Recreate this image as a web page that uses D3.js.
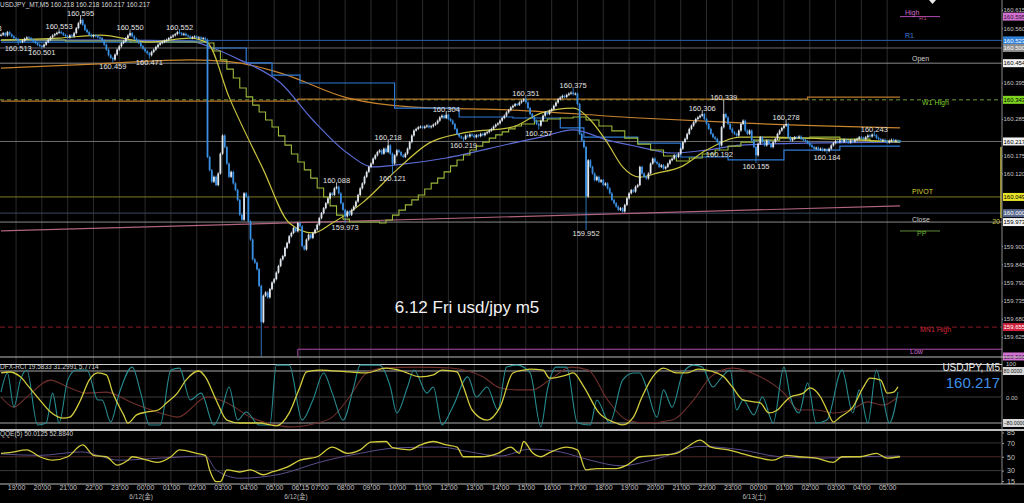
<!DOCTYPE html>
<html>
<head>
<meta charset="utf-8">
<script src="https://cdn.jsdelivr.net/npm/d3@7"></script>
<style>
body { margin: 0; background: #000; overflow: hidden; }
svg { display: block; }
text { font-family: "Liberation Sans", Arial, "Noto Sans CJK JP", sans-serif; }
.axis path.domain { display: none; }
.axis line { stroke: #9a9a9a; }
.axis text { fill: #c4c4c4; font-size: 7px; }
</style>
</head>
<body>
<svg></svg>
<script>
// USDJPY M5, 18:25 (6/11) .. 05:30 (6/13), one close per bar
var firstOpen = 160.538;
var closes = [
 160.540,160.545,160.538,160.548,160.541,160.535,160.530,160.527,160.520,160.518,
 160.522,160.528,160.532,160.530,160.526,160.520,160.515,160.510,160.506,160.504,
 160.510,160.518,160.525,160.532,160.538,160.542,160.546,160.549,160.545,160.540,
 160.536,160.532,160.538,160.535,160.545,160.560,160.575,160.585,160.570,160.555,
 160.548,160.540,160.535,160.538,160.536,160.532,160.530,160.522,160.510,160.495,
 160.478,160.470,160.465,160.480,160.495,160.505,160.515,160.520,160.530,160.538,
 160.545,160.535,160.528,160.522,160.515,160.505,160.498,160.490,160.484,160.478,
 160.488,160.495,160.503,160.510,160.515,160.518,160.522,160.525,160.530,160.534,
 160.538,160.542,160.548,160.545,160.540,160.543,160.538,160.535,160.530,160.533,
 160.535,160.530,160.532,160.528,160.530,160.525,160.170,160.130,160.095,160.110,
 160.085,160.120,160.180,160.235,160.200,160.150,160.110,160.125,160.090,160.070,
 160.040,159.995,159.980,160.060,160.050,159.975,159.920,159.860,159.850,159.830,
 159.780,159.670,159.750,159.760,159.745,159.770,159.790,159.800,159.820,159.840,
 159.860,159.870,159.895,159.910,159.930,159.940,159.955,159.945,159.970,159.960,
 159.900,159.890,159.920,159.935,159.925,159.940,159.950,159.965,159.985,160.000,
 160.015,160.030,160.045,160.060,160.055,160.075,160.080,160.060,160.030,160.010,
 159.990,160.005,159.995,160.010,160.020,160.035,160.055,160.075,160.090,160.110,
 160.125,160.140,160.150,160.165,160.175,160.185,160.190,160.180,160.195,160.185,
 160.205,160.180,160.150,160.175,160.190,160.185,160.175,160.170,160.180,160.195,
 160.215,160.235,160.250,160.255,160.260,160.262,160.258,160.262,160.265,160.260,
 160.263,160.268,160.272,160.280,160.290,160.295,160.288,160.298,160.285,160.280,
 160.270,160.255,160.240,160.232,160.228,160.225,160.235,160.232,160.238,160.235,
 160.230,160.236,160.233,160.240,160.236,160.242,160.245,160.250,160.255,160.262,
 160.268,160.272,160.280,160.288,160.295,160.305,160.312,160.320,160.325,160.330,
 160.328,160.335,160.340,160.345,160.335,160.318,160.300,160.290,160.280,160.270,
 160.265,160.280,160.295,160.305,160.300,160.310,160.315,160.325,160.335,160.345,
 160.350,160.355,160.352,160.358,160.362,160.365,160.360,160.362,160.330,160.240,
 160.220,160.200,160.050,160.160,160.140,160.120,160.100,160.110,160.095,160.100,
 160.085,160.090,160.075,160.060,160.040,160.030,160.020,160.010,160.015,160.005,
 160.025,160.045,160.060,160.070,160.065,160.080,160.085,160.140,160.120,160.110,
 160.105,160.120,160.150,160.165,160.155,160.150,160.140,160.145,160.135,160.140,
 160.150,160.160,160.165,160.175,160.170,160.180,160.195,160.215,160.225,160.240,
 160.255,160.265,160.275,160.285,160.290,160.295,160.300,160.285,160.270,160.255,
 160.240,160.230,160.225,160.215,160.205,160.260,160.300,160.290,160.270,160.255,
 160.245,160.240,160.235,160.250,160.270,160.280,160.250,160.240,160.250,160.220,
 160.200,160.175,160.210,160.230,160.215,160.205,160.220,160.210,160.200,160.215,
 160.225,160.240,160.250,160.258,160.265,160.270,160.230,160.220,160.225,160.230,
 160.228,160.232,160.225,160.222,160.218,160.212,160.205,160.200,160.195,160.198,
 160.192,160.195,160.190,160.193,160.188,160.195,160.205,160.212,160.218,160.215,
 160.220,160.216,160.222,160.218,160.214,160.220,160.217,160.222,160.225,160.230,
 160.228,160.225,160.230,160.235,160.232,160.238,160.236,160.228,160.224,160.220,
 160.222,160.218,160.214,160.219,160.222,160.218,160.220,160.218,160.217
];

// zigzag extremes [bar, price]
var swingHighs = [[-6,160.548],[27,160.553],[37,160.595],[60,160.550],[83,160.552],[156,160.088],[180,160.218],
  [207,160.304],[244,160.351],[266,160.375],[326,160.306],[336,160.339],[365,160.278],[406,160.243]];
var swingLows = [[8,160.513],[19,160.501],[52,160.459],[69,160.471],[121,159.566],[160,159.973],[182,160.121],
  [215,160.219],[250,160.257],[272,159.952],[334,160.192],[351,160.155],[384,160.184]];

// indicator lines [bar, price]
var maFast = [[0,160.524],[27,160.530],[46,160.539],[69,160.518],[88,160.530],[96,160.515],[106,160.352],[122,160.131],
  [134,159.970],[145,159.940],[154,159.970],[168,160.031],[184,160.131],[199,160.212],[215,160.243],[238,160.261],
  [251,160.303],[266,160.318],[274,160.282],[282,160.212],[289,160.140],[297,160.109],[305,160.121],[316,160.140],
  [328,160.191],[344,160.230],[359,160.230],[375,160.227],[418,160.215]];
var maStair = [[0,160.524],[30,160.521],[60,160.518],[96,160.515],[99,160.491],[102,160.464],[105,160.436],[108,160.409],
  [111,160.379],[114,160.352],[117,160.327],[120,160.306],[123,160.282],[126,160.261],[129,160.234],[132,160.206],
  [135,160.179],[138,160.155],[141,160.131],[144,160.106],[147,160.076],[150,160.049],[153,160.022],[156,159.994],
  [159,159.982],[162,159.973],[176,159.970],[179,159.979],[182,159.994],[185,160.009],[188,160.025],[191,160.040],
  [194,160.055],[197,160.073],[200,160.091],[203,160.106],[206,160.125],[209,160.143],[212,160.161],[215,160.176],
  [218,160.191],[221,160.203],[224,160.215],[227,160.227],[230,160.237],[233,160.246],[236,160.255],[239,160.264],
  [242,160.270],[248,160.279],[254,160.285],[260,160.288],[266,160.291],[272,160.282],[278,160.264],[284,160.249],
  [290,160.227],[296,160.209],[302,160.191],[308,160.173],[314,160.158],[320,160.167],[326,160.179],[332,160.191],
  [338,160.203],[344,160.215],[350,160.221],[362,160.227],[376,160.230],[390,160.224],[404,160.218],[418,160.215]];
var maMid = [[0,160.524],[46,160.524],[88,160.521],[96,160.506],[111,160.464],[130,160.394],[145,160.282],[161,160.182],
  [173,160.140],[184,160.146],[207,160.167],[238,160.212],[251,160.230],[266,160.252],[282,160.221],[297,160.200],
  [312,160.182],[328,160.191],[344,160.206],[375,160.212],[418,160.215]];
var maSlow = [[0,160.439],[46,160.452],[88,160.464],[107,160.458],[130,160.424],[161,160.349],[192,160.321],
  [238,160.312],[297,160.288],[344,160.273],[418,160.258]];
var kijun = [[0,160.518],[96,160.500],[114,160.455],[126,160.418],[139,160.394],[183,160.318],[213,160.291],[238,160.288],
  [260,160.258],[271,160.230],[296,160.212],[316,160.170],[338,160.161],[364,160.191],[390,160.203],[418,160.203]];
var hiLine = [[0,160.339],[138,160.345],[375,160.351],[418,160.351]];
var trendLine = [[0,159.946],[418,160.022]];

// horizontal levels
var levelNames  = ['High','R1','Mid','Open','W1 High','Last','PIVOT','Round','Close','PP','MN1 High','Low'];
var levelPrices = [160.595,160.523,160.500,160.454,160.343,160.217,160.049,160.000,159.973,159.946,159.655,159.566];
var lowBoxTop = 159.588, lowBoxStart = 138;

// price axis
var priceTicks = [160.615,160.560,160.505,160.450,160.395,160.340,160.285,160.230,160.175,160.120,160.065,160.010,
  159.955,159.900,159.845,159.790,159.735,159.680,159.625];

// time axis
var timeIdx = [7,19,31,43,55,67,79,91,103,115,127,139,148,160,172,184,196,208,220,232,244,256,268,280,292,304,316,328,340,352,364,376,388,400,412];
var timeLabels = ['19:00','20:00','21:00','22:00','23:00','00:00','01:00','02:00','03:00','04:00','05:00','06:15','07:00',
  '08:00','09:00','10:00','11:00','12:00','13:00','14:00','15:00','16:00','17:00','18:00','19:00','20:00','21:00',
  '22:00','23:00','00:00','01:00','02:00','03:00','04:00','05:00'];
var dateIdx = [67,139,352];
var dateLabels = ['6/12(金)','6/12(金)','6/13(土)'];

// RCI [bar, value]
var rciFast = [[0,15],[3,74],[6,-31],[9,52],[12,83],[17,-86],[21,-80],[24,12],[27,-80],[31,52],[35,83],[40,83],[45,-9],[47,-9],
  [51,-77],[55,12],[61,92],[65,12],[69,-86],[74,-86],[79,83],[83,89],[88,-9],[93,12],[99,-86],[103,-31],[106,31],[110,-71],
  [114,-46],[120,-86],[125,-86],[128,98],[134,98],[140,-71],[145,-9],[150,74],[154,12],[159,-71],[164,31],[167,98],[176,98],
  [181,31],[184,-49],[189,31],[192,83],[198,12],[201,31],[205,-86],[210,-31],[217,62],[221,0],[226,31],[231,-40],[235,92],
  [240,98],[246,74],[251,-92],[254,22],[258,92],[263,92],[268,-80],[274,-86],[277,-9],[283,-80],[289,52],[294,74],[297,74],
  [300,31],[305,-62],[308,22],[312,-31],[317,74],[322,98],[326,92],[331,31],[334,52],[339,83],[342,-40],[345,-9],[350,-55],
  [354,0],[359,-80],[364,92],[367,0],[371,-49],[375,43],[379,-80],[384,-71],[391,83],[396,-49],[399,22],[403,-80],[407,83],
  [410,0],[413,-80],[417,15]];
var rciMid = [[0,74],[4,77],[9,62],[13,31],[18,-9],[23,-46],[29,-65],[32,-62],[37,-9],[41,52],[45,74],[49,68],[52,12],[57,-55],
  [59,-80],[63,-55],[68,-46],[73,-40],[77,-18],[82,12],[86,52],[92,80],[95,62],[100,-9],[105,-71],[111,-80],[120,-80],
  [128,-89],[134,-49],[139,31],[142,77],[148,83],[162,77],[170,74],[179,89],[185,83],[195,62],[201,68],[205,83],[212,77],
  [215,31],[219,-40],[226,-71],[232,-31],[238,74],[243,83],[246,86],[252,83],[255,58],[263,68],[266,74],[271,31],[278,-49],
  [286,-80],[289,-86],[294,-62],[298,0],[303,62],[308,89],[314,74],[319,74],[324,86],[330,80],[336,62],[340,31],[345,-9],
  [350,-15],[353,-18],[357,-49],[361,-40],[364,-18],[367,0],[373,12],[376,28],[381,0],[384,-40],[387,-77],[390,-62],
  [396,-31],[401,31],[404,58],[409,52],[412,12],[415,15],[417,31]];
var rciSlow = [[0,0],[6,-31],[12,0],[23,52],[31,31],[40,12],[49,15],[61,-18],[74,-49],[82,-62],[96,0],[105,-18],[116,-62],
  [128,-86],[134,-92],[147,-80],[154,-62],[162,0],[170,74],[178,89],[193,92],[209,89],[224,62],[232,28],[240,22],[247,22],
  [255,52],[265,92],[273,83],[282,-9],[291,-71],[300,-80],[312,-71],[322,-9],[330,62],[340,89],[353,62],[364,12],[371,-40],
  [379,-40],[387,-49],[395,-40],[403,-15],[410,-25],[417,0]];

// QQE [bar, value]
var qqeFast = [[0,55],[4,56],[12,60],[18,50],[24,45],[31,50],[38,67],[43,52],[49,50],[54,38],[59,45],[61,50],[68,45],[73,42],
  [79,50],[83,60],[91,55],[95,52],[97,31],[100,14],[102,14],[105,31],[111,28],[116,31],[122,24],[126,28],[133,35],[139,45],
  [147,50],[154,64],[161,55],[167,60],[172,71],[179,72],[182,63],[190,60],[195,67],[201,72],[207,67],[212,64],[215,50],
  [223,50],[231,55],[237,64],[241,55],[243,72],[247,56],[251,50],[255,56],[263,64],[268,60],[272,31],[277,33],[286,33],
  [291,38],[297,50],[305,52],[314,55],[319,64],[325,74],[330,64],[338,60],[344,55],[353,48],[359,45],[365,52],[371,50],
  [379,48],[387,42],[391,50],[399,50],[407,55],[412,48],[418,50]];
var qqeSlow = [[0,54],[18,52],[37,57],[55,45],[74,48],[95,51],[100,31],[111,19],[130,25],[148,42],[167,55],[185,63],[204,64],
  [218,57],[232,51],[246,61],[260,57],[274,45],[288,37],[306,48],[325,65],[344,60],[362,50],[381,48],[399,50],[418,51]];
var qqeTicks = [85,70,50,30,15];

var header = 'USDJPY_MT,M5  160.218 160.218 160.217 160.217';
var rciTitle = 'DFX-RCI 19.5833 31.2991 5.7714';
var qqeTitle = 'QQE(5) 50.0125 52.8840';
var note = '6.12 Fri usd/jpy m5';

// ---------------------------------------------------------------
var W = 1024, H = 503, axisX = 1002;
var svg = d3.select('svg').attr('width', W).attr('height', H);
svg.append('rect').attr('width', W).attr('height', H).attr('fill', '#000');

var x = d3.scaleLinear().domain([0, 418]).range([1, 900.1]);
var y = d3.scaleLinear().domain([159.625, 160.615]).range([337, 10]);
var yRci = d3.scaleLinear().domain([-100, 100]).range([429.5, 364.5]);
var yQqe = d3.scaleLinear().domain([15, 85]).range([481, 432.5]);

var defs = svg.append('defs');
defs.append('clipPath').attr('id', 'cp').append('rect').attr('width', axisX).attr('height', 356.5);
defs.append('clipPath').attr('id', 'cr').append('rect').attr('y', 358).attr('width', axisX).attr('height', 71);
defs.append('clipPath').attr('id', 'cq').append('rect').attr('y', 430.5).attr('width', axisX).attr('height', 53);

// grid
svg.append('g').selectAll('line').data(timeIdx).enter().append('line')
  .attr('x1', d => x(d)).attr('x2', d => x(d)).attr('y1', 0).attr('y2', 484)
  .attr('stroke', '#2a2a2a').attr('stroke-width', 1);

var price = svg.append('g').attr('clip-path', 'url(#cp)');

// levels
var levelStyle = {
  'High':     {c: '#b04ab0', x0: 900, x1: 940, lc: '#c86ac8', tag: '#d070d0', tc: '#301030'},
  'R1':       {c: '#2a5fb0', lc: '#3f7fd8', tag: '#2f80d8', tc: '#fff'},
  'Mid':      {c: '#6a6a6a', tag: '#8c8c8c', tc: '#fff'},
  'Open':     {c: '#8a8a8a', lc: '#d0d0d0', tag: '#f2f2f2', tc: '#000'},
  'W1 High':  {c: '#6f9a3a', dash: '4,3', lc: '#7fd02a', tag: '#7ed321', tc: '#000'},
  'Last':     {c: '#6e6e6e', tag: '#f2f2f2', tc: '#000'},
  'PIVOT':    {c: '#7d7a22', lc: '#d8d22a', tag: '#e8e22a', tc: '#000'},
  'Round':    {c: '#3a4660', tag: '#5a6a8c', tc: '#fff'},
  'Close':    {c: '#8a8a8a', lc: '#c8c8c8', tag: '#f2f2f2', tc: '#000'},
  'PP':       {c: '#5f8a3a', x0: 900, x1: 940, lc: '#6fb52a'},
  'MN1 High': {c: '#8c1c2c', dash: '5,3', lc: '#d0283a', tag: '#d0203c', tc: '#fff'},
  'Low':      {c: '#b04ab0', lc: '#c86ac8', tag: '#d070d0', tc: '#301030'}
};
var labelOffset = {'High': [905, -2], 'R1': [905, -2], 'Open': [912, -2], 'W1 High': [922, 5],
  'PIVOT': [912, -3], 'Close': [912, 0], 'PP': [917, 5], 'MN1 High': [920, 5], 'Low': [910, -2]};

levelNames.forEach(function(n, k) {
  var s = levelStyle[n], p = levelPrices[k];
  if (n === 'Low') return;
  price.append('line').attr('x1', s.x0 || 0).attr('x2', s.x1 || axisX)
    .attr('y1', y(p)).attr('y2', y(p)).attr('stroke', s.c).attr('stroke-width', 1)
    .attr('stroke-dasharray', s.dash || null);
});
// day low box
price.append('path')
  .attr('d', 'M' + axisX + ',' + y(lowBoxTop) + 'H' + x(lowBoxStart) + 'V' + y(levelPrices[11]))
  .attr('fill', 'none').attr('stroke', '#b04ab0');

// trend line and moving averages
var line = d3.line().x(d => x(d[0])).y(d => y(d[1]));
price.append('path').datum(trendLine).attr('d', line).attr('fill', 'none').attr('stroke', '#b0647e').attr('stroke-width', 1.2);
price.append('path').datum(hiLine).attr('d', line.curve(d3.curveStepAfter)).attr('fill', 'none').attr('stroke', '#b97a2c').attr('stroke-width', 1.2);
price.append('path').datum(maSlow).attr('d', line.curve(d3.curveMonotoneX)).attr('fill', 'none').attr('stroke', '#c8842e').attr('stroke-width', 1.2);
price.append('path').datum(kijun).attr('d', line.curve(d3.curveStepAfter)).attr('fill', 'none').attr('stroke', '#2f7bd6').attr('stroke-width', 1.2);
price.append('path').datum(maMid).attr('d', line.curve(d3.curveMonotoneX)).attr('fill', 'none').attr('stroke', '#5a6ad4').attr('stroke-width', 1.2);
price.append('path').datum(maStair).attr('d', line.curve(d3.curveStepAfter)).attr('fill', 'none').attr('stroke', '#9ab83a').attr('stroke-width', 1.1);
price.append('path').datum(maFast).attr('d', line.curve(d3.curveMonotoneX)).attr('fill', 'none').attr('stroke', '#c8c23e').attr('stroke-width', 1.2);

// candles
var candles = closes.map(function(c, i) {
  var o = i ? closes[i - 1] : firstOpen;
  return {i: i, o: o, c: c, h: Math.max(o, c), l: Math.min(o, c)};
});
swingHighs.forEach(function(d) { if (candles[d[0]]) candles[d[0]].h = d[1]; });
swingLows.forEach(function(d) { if (candles[d[0]]) candles[d[0]].l = d[1]; });

var bull = '#dfe6ee', bear = '#3a8fe2';
var cg = price.append('g');
cg.selectAll('line').data(candles).enter().append('line')
  .attr('x1', d => x(d.i)).attr('x2', d => x(d.i))
  .attr('y1', d => y(d.h) - 1.2).attr('y2', d => y(d.l) + 1.2)
  .attr('stroke', d => d.c >= d.o ? bull : bear).attr('stroke-width', 0.8);
cg.selectAll('rect').data(candles).enter().append('rect')
  .attr('x', d => x(d.i) - 0.9).attr('width', 1.8)
  .attr('y', d => y(Math.max(d.o, d.c)))
  .attr('height', d => Math.max(1, y(Math.min(d.o, d.c)) - y(Math.max(d.o, d.c))))
  .attr('fill', d => d.c >= d.o ? bull : bear);

// swing labels
var fmt = d3.format('.3f');
price.append('g').selectAll('text').data(swingHighs).enter().append('text')
  .attr('x', d => x(d[0])).attr('y', d => y(d[1]) - 1)
  .attr('text-anchor', 'middle').attr('font-size', 7.5).attr('fill', '#e2e2e2').text(d => fmt(d[1]));
price.append('g').selectAll('text').data(swingLows).enter().append('text')
  .attr('x', d => x(d[0])).attr('y', d => y(d[1]) + 7.5)
  .attr('text-anchor', 'middle').attr('font-size', 7.5).attr('fill', '#e2e2e2').text(d => fmt(d[1]));

// level names
levelNames.forEach(function(n, k) {
  var s = levelStyle[n], o = labelOffset[n];
  if (!o) return;
  price.append('text').attr('x', o[0]).attr('y', y(levelPrices[k]) + o[1])
    .attr('font-size', 7).attr('fill', s.lc).text(n);
});
price.append('text').attr('x', 919).attr('y', y(levelPrices[0]) + 3).attr('font-size', 6).attr('fill', '#b04a80').text('R1');

// pending bar marker
price.append('line').attr('x1', 1001).attr('x2', 1001).attr('y1', y(160.200)).attr('y2', y(159.985))
  .attr('stroke', '#c8c23e').attr('stroke-width', 1.5);
price.append('text').attr('x', 1000).attr('y', y(159.975) + 3).attr('text-anchor', 'end')
  .attr('font-size', 7).attr('fill', '#c8c23e').text('20');

svg.append('text').attr('x', 0).attr('y', 7).attr('font-size', 6.5).attr('fill', '#d8d8d8').text(header);
svg.append('text').attr('x', 467).attr('y', 313).attr('text-anchor', 'middle')
  .attr('font-family', '"Noto Sans", sans-serif').attr('font-size', 17).attr('fill', '#f2f2f2').text(note);
svg.append('path').attr('d', 'M929,0H936L932.5,4Z').attr('fill', '#e8e8e8');

// price axis: hide tick labels that sit under a tag
var tagged = levelNames.map((n, k) => levelStyle[n].tag ? levelPrices[k] : null).filter(v => v !== null);
var freeTicks = priceTicks.filter(t => tagged.every(p => Math.abs(y(p) - y(t)) > 6));
svg.append('line').attr('x1', axisX).attr('x2', axisX).attr('y1', 0).attr('y2', 484).attr('stroke', '#8a8a8a');
var pa = svg.append('g').attr('class', 'axis').attr('transform', 'translate(' + axisX + ',0)')
  .call(d3.axisRight(y).tickValues(freeTicks).tickFormat(fmt).tickSize(1).tickPadding(0.5));
pa.selectAll('text').style('font-size', '6px');

var tags = svg.append('g');
levelNames.forEach(function(n, k) {
  var s = levelStyle[n];
  if (!s.tag) return;
  var py = y(levelPrices[k]);
  tags.append('rect').attr('x', axisX + 1).attr('y', py - 4).attr('width', 21).attr('height', 8).attr('fill', s.tag);
  tags.append('text').attr('x', axisX + 1.5).attr('y', py + 2.2).attr('font-size', 6).attr('fill', s.tc)
    .text(fmt(levelPrices[k]));
});

// pane separators
[357, 429.5, 430.5, 484].forEach(function(v) {
  svg.append('line').attr('x1', 0).attr('x2', W).attr('y1', v).attr('y2', v).attr('stroke', '#bdbdbd');
});

// RCI pane
var rci = svg.append('g').attr('clip-path', 'url(#cr)');
[[100, '#d0d0d0'], [80, '#a8a8a8'], [0, '#3c3c3c'], [-80, '#a8a8a8'], [-100, '#d0d0d0']].forEach(function(l) {
  rci.append('line').attr('x1', 0).attr('x2', axisX).attr('y1', yRci(l[0])).attr('y2', yRci(l[0])).attr('stroke', l[1]);
});
var rl = d3.line().x(d => x(d[0])).y(d => yRci(d[1])).curve(d3.curveMonotoneX);
rci.append('path').datum(rciSlow).attr('d', rl).attr('fill', 'none').attr('stroke', '#6e2f2c').attr('stroke-width', 1.1);
rci.append('path').datum(rciFast).attr('d', rl).attr('fill', 'none').attr('stroke', '#268c92').attr('stroke-width', 1.1);
rci.append('path').datum(rciMid).attr('d', rl).attr('fill', 'none').attr('stroke', '#d2cc3c').attr('stroke-width', 1.3);
svg.append('text').attr('x', 0).attr('y', 369).attr('font-size', 6.5).attr('fill', '#d0d0d0').text(rciTitle);
svg.append('text').attr('x', 1000).attr('y', 371).attr('text-anchor', 'end').attr('font-size', 10).attr('fill', '#e6e6e6').text('USDJPY, M5');
svg.append('text').attr('x', 1000).attr('y', 388).attr('text-anchor', 'end').attr('font-size', 15).attr('fill', '#3f8fe6').text(fmt(closes[closes.length - 1]));
svg.append('text').attr('x', axisX + 4).attr('y', 366).attr('font-size', 6).attr('fill', '#c4c4c4').text('100');
svg.append('text').attr('x', axisX + 4).attr('y', yRci(0) + 2.5).attr('font-size', 6).attr('fill', '#c4c4c4').text('0.00');
[80, -80].forEach(function(v) {
  svg.append('rect').attr('x', axisX + 1).attr('y', yRci(v) - 4).attr('width', 21).attr('height', 8).attr('fill', '#d8d8d8');
  svg.append('text').attr('x', axisX + 1.5).attr('y', yRci(v) + 2).attr('font-size', 5.2).attr('fill', '#222')
    .text(d3.format('.4f')(v));
});

// QQE pane
var qqe = svg.append('g').attr('clip-path', 'url(#cq)');
[[70, '#333'], [50, '#4a2a2a'], [30, '#3a3a3a']].forEach(function(l) {
  qqe.append('line').attr('x1', 0).attr('x2', axisX).attr('y1', yQqe(l[0])).attr('y2', yQqe(l[0])).attr('stroke', l[1]);
});
var ql = d3.line().x(d => x(d[0])).y(d => yQqe(d[1])).curve(d3.curveMonotoneX);
qqe.append('path').datum(qqeSlow).attr('d', ql).attr('fill', 'none').attr('stroke', '#5c4f8c').attr('stroke-width', 1);
qqe.append('path').datum(qqeFast).attr('d', ql).attr('fill', 'none').attr('stroke', '#d2cc3c').attr('stroke-width', 1.3);
svg.append('text').attr('x', 0).attr('y', 436).attr('font-size', 6.5).attr('fill', '#d0d0d0').text(qqeTitle);
svg.append('g').attr('class', 'axis').attr('transform', 'translate(' + axisX + ',0)')
  .call(d3.axisRight(yQqe).tickValues(qqeTicks).tickSize(2).tickPadding(3));

// time axis
svg.append('g').attr('class', 'axis').attr('transform', 'translate(0,484)')
  .call(d3.axisBottom(x).tickValues(timeIdx).tickFormat((d, k) => timeLabels[k]).tickSize(2).tickPadding(-1));
svg.append('g').selectAll('text').data(dateIdx).enter().append('text')
  .attr('x', d => x(d) - 4).attr('y', 499).attr('text-anchor', 'middle')
  .attr('font-size', 6.5).attr('fill', '#b8b8b8').text((d, k) => dateLabels[k]);
</script>
</body>
</html>
